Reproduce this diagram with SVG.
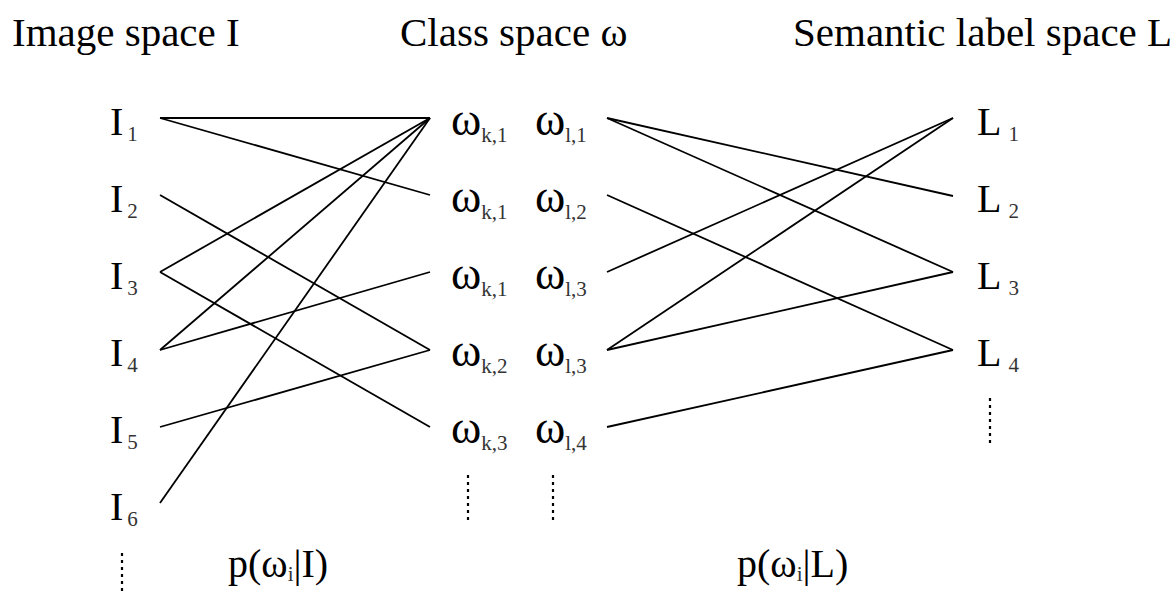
<svg xmlns="http://www.w3.org/2000/svg" width="1176" height="595" viewBox="0 0 1176 595">
<style>
text{font-family:"Liberation Serif","Times New Roman",serif;fill:#000}
.t{font-size:41px}
.n{font-size:40px}
.w{font-size:46px}
.s{font-size:21px;fill:#333}
.c line{stroke:#000;stroke-width:1.8;fill:none}
.dots{stroke:#000;stroke-width:2.2;stroke-dasharray:3 4}
</style>
<rect width="1176" height="595" fill="#fff"/>
<g id="titles">
<text class="t" x="12" y="46">Image space I</text>
<text class="t" x="400" y="46">Class space ω</text>
<text class="t" x="793" y="46">Semantic label space L</text>
</g>
<g class="c" id="connectors">
<line x1="160" y1="118" x2="430" y2="118"/>
<line x1="160" y1="118" x2="430" y2="195"/>
<line x1="160" y1="195" x2="430" y2="350"/>
<line x1="160" y1="272" x2="430" y2="118"/>
<line x1="160" y1="272" x2="430" y2="427"/>
<line x1="160" y1="350" x2="430" y2="118"/>
<line x1="160" y1="350" x2="430" y2="272"/>
<line x1="160" y1="427" x2="430" y2="350"/>
<line x1="160" y1="503" x2="430" y2="118"/>
<line x1="607" y1="118" x2="953" y2="196"/>
<line x1="607" y1="118" x2="953" y2="272"/>
<line x1="607" y1="195" x2="953" y2="350"/>
<line x1="607" y1="272" x2="953" y2="118"/>
<line x1="607" y1="350" x2="953" y2="118"/>
<line x1="607" y1="350" x2="953" y2="272"/>
<line x1="607" y1="427" x2="953" y2="350"/>
</g>
<g id="I1"><text class="n" x="110" y="135">I<tspan class="s" dx="4" dy="6">1</tspan></text></g>
<g id="I2"><text class="n" x="110" y="212">I<tspan class="s" dx="4" dy="6">2</tspan></text></g>
<g id="I3"><text class="n" x="110" y="289">I<tspan class="s" dx="4" dy="6">3</tspan></text></g>
<g id="I4"><text class="n" x="110" y="366">I<tspan class="s" dx="4" dy="6">4</tspan></text></g>
<g id="I5"><text class="n" x="110" y="443">I<tspan class="s" dx="4" dy="6">5</tspan></text></g>
<g id="I6"><text class="n" x="110" y="520">I<tspan class="s" dx="4" dy="6">6</tspan></text></g>
<g id="wk1a"><text class="w" x="451" y="135">ω<tspan class="s" dy="7">k,1</tspan></text></g>
<g id="wk1b"><text class="w" x="451" y="212">ω<tspan class="s" dy="7">k,1</tspan></text></g>
<g id="wk1c"><text class="w" x="451" y="289">ω<tspan class="s" dy="7">k,1</tspan></text></g>
<g id="wk2"><text class="w" x="451" y="366">ω<tspan class="s" dy="7">k,2</tspan></text></g>
<g id="wk3"><text class="w" x="451" y="443">ω<tspan class="s" dy="7">k,3</tspan></text></g>
<g id="wl1"><text class="w" x="535" y="135">ω<tspan class="s" dy="7">l,1</tspan></text></g>
<g id="wl2"><text class="w" x="535" y="212">ω<tspan class="s" dy="7">l,2</tspan></text></g>
<g id="wl3a"><text class="w" x="535" y="289">ω<tspan class="s" dy="7">l,3</tspan></text></g>
<g id="wl3b"><text class="w" x="535" y="366">ω<tspan class="s" dy="7">l,3</tspan></text></g>
<g id="wl4"><text class="w" x="535" y="443">ω<tspan class="s" dy="7">l,4</tspan></text></g>
<g id="L1"><text class="n" x="977" y="135">L<tspan class="s" dx="7" dy="6">1</tspan></text></g>
<g id="L2"><text class="n" x="977" y="212">L<tspan class="s" dx="7" dy="6">2</tspan></text></g>
<g id="L3"><text class="n" x="977" y="289">L<tspan class="s" dx="7" dy="6">3</tspan></text></g>
<g id="L4"><text class="n" x="977" y="366">L<tspan class="s" dx="7" dy="6">4</tspan></text></g>
<g id="ellipses">
<line class="dots" x1="122" y1="553" x2="122" y2="595"/>
<line class="dots" x1="468" y1="475" x2="468" y2="520"/>
<line class="dots" x1="553" y1="475" x2="553" y2="520"/>
<line class="dots" x1="990" y1="398" x2="990" y2="444"/>
</g>
<g id="pI"><text class="n" x="228" y="577">p(ω<tspan class="s" dy="4">i</tspan><tspan dy="-4">|I)</tspan></text></g>
<g id="pL"><text class="n" x="737" y="577">p(ω<tspan class="s" dy="4">i</tspan><tspan dy="-4">|L)</tspan></text></g>
</svg>
